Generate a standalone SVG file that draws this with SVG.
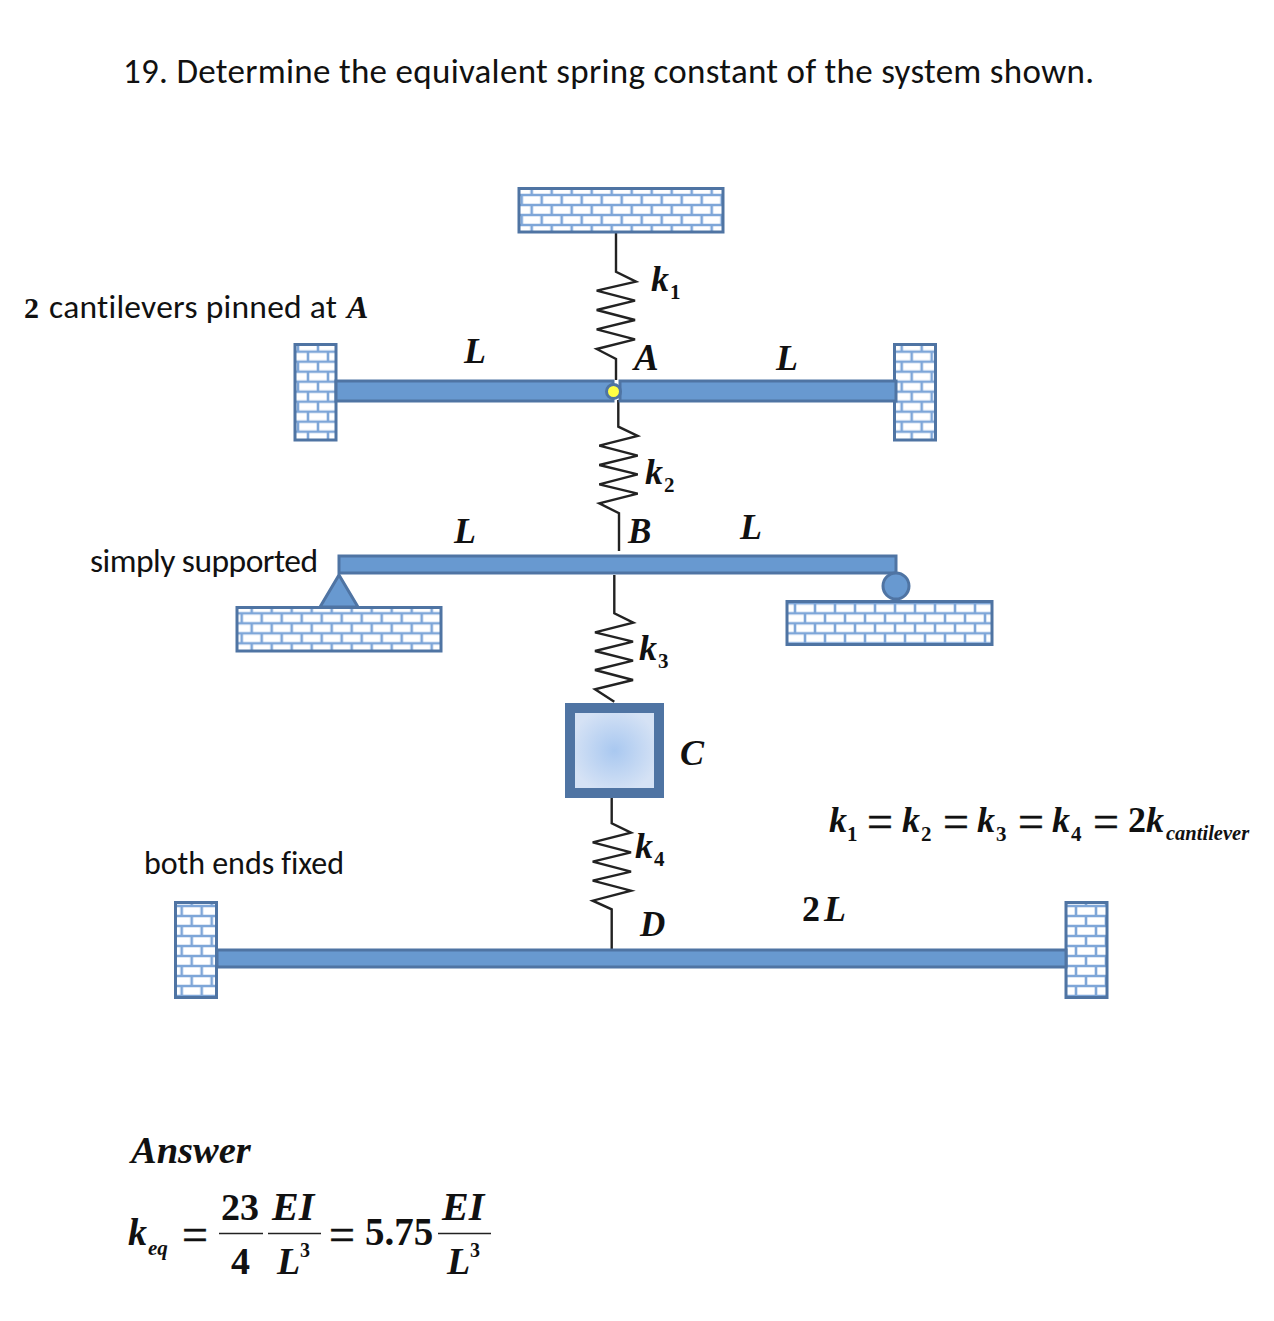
<svg xmlns="http://www.w3.org/2000/svg" width="1274" height="1321" viewBox="0 0 1274 1321">
<style>
.wall{stroke:#4f74a3;stroke-width:3}
.beam{fill:#6899d0;stroke:#4f74a3;stroke-width:3}
.spring{fill:none;stroke:#222;stroke-width:2.4;stroke-linejoin:miter}
.sans{font-family:Carlito,"Open Sans","Liberation Sans",sans-serif;fill:#111;font-variant-ligatures:none}
.m{font-family:"Liberation Serif",serif;font-weight:bold;fill:#111}
.i{font-style:italic}
.n{font-weight:bold;font-style:normal}
.eq{font-family:"Liberation Serif",serif;font-weight:normal;font-size:46px;fill:#111;stroke:#111;stroke-width:.5}
.frac{stroke:#222;stroke-width:1.6}
</style>
<defs>
<pattern id="brickA" width="20" height="20" patternUnits="userSpaceOnUse">
<rect width="20" height="20" fill="#fff"/>
<path d="M0 5H20M0 15H20M10 0V5M0 5V15M20 5V15M10 15V20" stroke="#7ea6d8" stroke-width="2.6" fill="none"/>
</pattern>
<pattern id="b1" href="#brickA" patternTransform="translate(521.700 190)"/>
<pattern id="b2" href="#brickA" patternTransform="translate(308 346.700)"/>
<pattern id="b3" href="#brickA" patternTransform="translate(891.700 346.700)"/>
<pattern id="b4" href="#brickA" patternTransform="translate(241.700 608.300)"/>
<pattern id="b5" href="#brickA" patternTransform="translate(795 598.300)"/>
<pattern id="b6" href="#brickA" patternTransform="translate(181.700 901)"/>
<pattern id="b7" href="#brickA" patternTransform="translate(1076 901)"/>
<radialGradient id="mass"><stop offset="0" stop-color="#a9c8f0"/><stop offset="1" stop-color="#d5e2f5"/></radialGradient>
</defs>
<rect width="1274" height="1321" fill="#fff"/>
<g id="title"><text class="sans" x="123" y="83" font-size="35" textLength="971" lengthAdjust="spacing">19. Determine the equivalent spring constant of the system shown.</text></g>
<g id="connectors">
<path class="spring" d="M616 233V271.700L636 281.700L596.700 290.700L635 300.700L596.700 310L635 320L596.700 329.300L635 339.300L596.700 349L616 359V380"/>
<path class="spring" d="M618.300 400V426.700L637.700 436L599.300 445.700L637.700 455.700L599.300 465L637.700 474.300L599.300 484.300L637.700 493.700L599.300 503.300L619 513.300V551"/>
<path class="spring" d="M614.300 575V613.300L633.300 622.700L595 632.300L633 641.700L595 651L633 660.700L595 670L633 680L595 689.300L614.300 701.700"/>
<path class="spring" d="M611.700 798V823.300L631 832.700L592.700 842.300L631 852.300L592.700 861.700L631 871.700L592.700 880.700L631 890.700L592.700 900.700L611.700 909.300V949"/>
</g>
<g id="wall-top"><rect class="wall" x="519" y="188.500" width="204" height="43.500" fill="url(#b1)"/></g>
<g id="wall-left"><rect class="wall" x="295" y="344.500" width="41" height="95.500" fill="url(#b2)"/></g>
<g id="wall-right"><rect class="wall" x="894.500" y="344.500" width="41" height="95.500" fill="url(#b3)"/></g>
<g id="beam-a-left"><rect class="beam" x="336" y="381" width="277" height="20"/></g>
<g id="beam-a-right"><rect class="beam" x="620" y="381" width="276" height="20"/></g>
<g id="pin-a"><circle cx="613.500" cy="391.500" r="7" fill="#ffff44" stroke="#4f74a3" stroke-width="3"/></g>
<g id="beam-b"><rect class="beam" x="339" y="556" width="557" height="17"/></g>
<g id="support-pin"><path d="M339 575L358 607H320Z" fill="#6899d0" stroke="#4f74a3" stroke-width="3"/></g>
<g id="wall-b-left"><rect class="wall" x="237" y="607.500" width="204" height="43.500" fill="url(#b4)"/></g>
<g id="support-roller"><circle cx="896" cy="586" r="13" fill="#6899d0" stroke="#4f74a3" stroke-width="3"/></g>
<g id="wall-b-right"><rect class="wall" x="787" y="601.500" width="205" height="43" fill="url(#b5)"/></g>
<g id="mass-c"><rect x="570" y="708" width="89" height="85" fill="url(#mass)" stroke="#4f74a3" stroke-width="10"/></g>
<g id="wall-d-left"><rect class="wall" x="175.500" y="902.500" width="41" height="95" fill="url(#b6)"/></g>
<g id="wall-d-right"><rect class="wall" x="1066" y="902.500" width="41" height="95" fill="url(#b7)"/></g>
<g id="beam-d"><rect class="beam" x="217" y="950" width="849" height="17"/></g>
<g id="labels">
<text class="m" x="24" y="318" font-size="30">2</text>
<text class="sans" x="49" y="318" font-size="33.500" textLength="288" lengthAdjust="spacing">cantilevers pinned at</text>
<text class="m i" x="347" y="318" font-size="32">A</text>
<text class="sans" x="90" y="572" font-size="33.500" textLength="228" lengthAdjust="spacing">simply supported</text>
<text class="sans" x="144" y="874" font-size="32" textLength="200" lengthAdjust="spacing">both ends fixed</text>
<text class="m i" x="651" y="291" font-size="36">k<tspan class="n" font-size="21" dx="1" dy="8">1</tspan></text>
<text class="m i" x="634" y="370" font-size="37">A</text>
<text class="m i" x="464" y="363" font-size="36">L</text>
<text class="m i" x="776" y="370" font-size="36">L</text>
<text class="m i" x="645" y="484" font-size="36">k<tspan class="n" font-size="21" dx="1" dy="8">2</tspan></text>
<text class="m i" x="628" y="543" font-size="35">B</text>
<text class="m i" x="454" y="543" font-size="36">L</text>
<text class="m i" x="740" y="539" font-size="36">L</text>
<text class="m i" x="639" y="660" font-size="36">k<tspan class="n" font-size="21" dx="1" dy="8">3</tspan></text>
<text class="m i" x="680" y="765" font-size="36">C</text>
<text class="m i" x="635" y="858" font-size="36">k<tspan class="n" font-size="21" dx="1" dy="8">4</tspan></text>
<text class="m i" x="640" y="936" font-size="35">D</text>
<text class="m" x="802" y="921" font-size="36">2<tspan class="i" dx="4">L</tspan></text>
</g>
<g id="relation">
<text class="m i" x="829" y="832" font-size="36">k</text><text class="m" x="847" y="841" font-size="21">1</text>
<text class="eq" x="867" y="837">=</text>
<text class="m i" x="902" y="832" font-size="36">k</text><text class="m" x="921" y="841" font-size="21">2</text>
<text class="eq" x="943" y="837">=</text>
<text class="m i" x="977" y="832" font-size="36">k</text><text class="m" x="996" y="841" font-size="21">3</text>
<text class="eq" x="1018" y="837">=</text>
<text class="m i" x="1052" y="832" font-size="36">k</text><text class="m" x="1071" y="841" font-size="21">4</text>
<text class="eq" x="1093" y="837">=</text>
<text class="m" x="1128" y="832" font-size="36">2</text><text class="m i" x="1146" y="832" font-size="36">k</text>
<text class="m i" x="1166" y="840" font-size="20.500">cantilever</text>
</g>
<g id="answer">
<text class="m i" x="131" y="1163" font-size="38.500">Answer</text>
<text class="m i" x="128" y="1245" font-size="38">k</text>
<text class="m i" x="148" y="1255" font-size="21">eq</text>
<text class="eq" x="182" y="1250">=</text>
<text class="m" x="221" y="1220" font-size="38">23</text>
<line class="frac" x1="219" y1="1233.500" x2="263" y2="1233.500"/>
<text class="m" x="231" y="1274" font-size="38">4</text>
<text class="m i" x="272" y="1220" font-size="40">EI</text>
<line class="frac" x1="268" y1="1233.500" x2="321" y2="1233.500"/>
<text class="m i" x="277" y="1274" font-size="38">L</text>
<text class="m" x="300" y="1257" font-size="20">3</text>
<text class="eq" x="329" y="1250">=</text>
<text class="m" x="365" y="1245" font-size="39">5.75</text>
<text class="m i" x="442" y="1220" font-size="40">EI</text>
<line class="frac" x1="438" y1="1233.500" x2="491" y2="1233.500"/>
<text class="m i" x="447" y="1274" font-size="38">L</text>
<text class="m" x="470" y="1257" font-size="20">3</text>
</g>
</svg>
